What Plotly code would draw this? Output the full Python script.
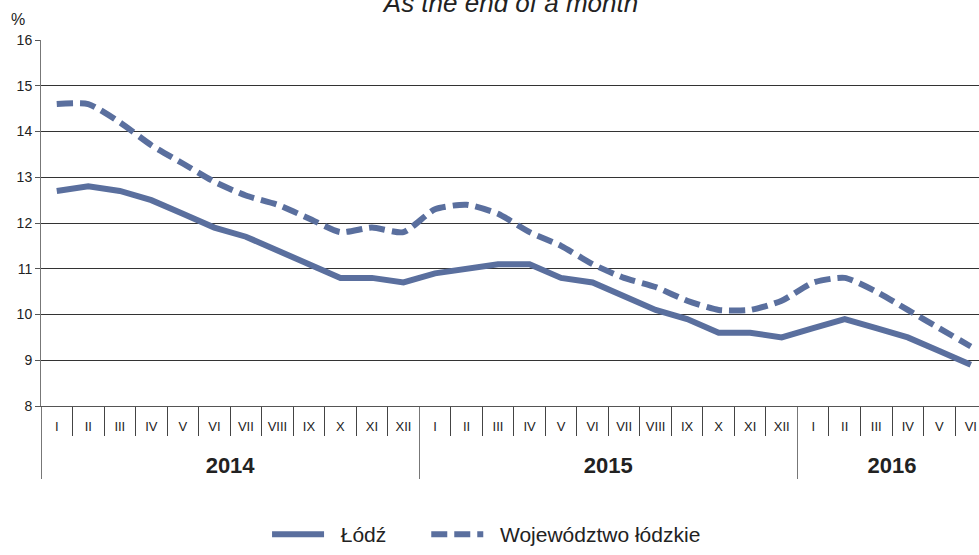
import plotly.graph_objects as go

years = ["2014"] * 12 + ["2015"] * 12 + ["2016"] * 6
months = ["I", "II", "III", "IV", "V", "VI", "VII", "VIII", "IX", "X", "XI", "XII",
          "I", "II", "III", "IV", "V", "VI", "VII", "VIII", "IX", "X", "XI", "XII",
          "I", "II", "III", "IV", "V", "VI"]
lodz = [12.7, 12.8, 12.7, 12.5, 12.2, 11.9, 11.7, 11.4, 11.1, 10.8, 10.8, 10.7,
        10.9, 11.0, 11.1, 11.1, 10.8, 10.7, 10.4, 10.1, 9.9, 9.6, 9.6, 9.5,
        9.7, 9.9, 9.7, 9.5, 9.2, 8.9]
wojewodztwo = [14.6, 14.6, 14.2, 13.7, 13.3, 12.9, 12.6, 12.4, 12.1, 11.8, 11.9, 11.8,
               12.3, 12.4, 12.2, 11.8, 11.5, 11.1, 10.8, 10.6, 10.3, 10.1, 10.1, 10.3,
               10.7, 10.8, 10.5, 10.1, 9.7, 9.3]
y_ticks = [8, 9, 10, 11, 12, 13, 14, 15, 16]

year_labels = ["<br><br><b><span style='font-size:22px'>%s</span></b>" % y for y in years]
x = [year_labels, months]

color = "#5a6f9e"
font_family = "Liberation Sans, Arial, sans-serif"
nb = "\u00a0\u00a0"

fig = go.Figure()
fig.add_trace(go.Scatter(x=x, y=lodz, name=nb + "Łódź" + "\u00a0" * 6, mode="lines",
                         line=dict(color=color, width=6)))
fig.add_trace(go.Scatter(x=x, y=wojewodztwo, name=nb + "Województwo łódzkie", mode="lines",
                         line=dict(color=color, width=6, dash="16px,7px",
                                   shape="spline", smoothing=0.6)))

fig.update_layout(
    width=979, height=555,
    margin=dict(l=41, r=0, t=40, b=144),
    paper_bgcolor="white", plot_bgcolor="white",
    font=dict(family=font_family, size=13, color="#222222"),
    title=dict(text="<i>As the end of a month</i>", x=511 / 979, xanchor="center",
               y=1 - 3 / 555, yanchor="middle", yref="container",
               font=dict(family=font_family, size=26, color="#222222")),
    showlegend=True,
    legend=dict(orientation="h", x=0.475, xanchor="center", y=-0.352, yanchor="middle",
                font=dict(family=font_family, size=21, color="#222222"),
                itemwidth=52, tracegroupgap=0),
)

fig.update_xaxes(
    type="multicategory",
    range=[-0.5, 29.26],
    automargin=False,
    showline=True, linecolor="#555555", linewidth=1,
    ticks="outside", tickson="boundaries", ticklen=29, tickcolor="#444444", tickwidth=1,
    ticklabelstandoff=8,
    showdividers=True, dividercolor="#777777", dividerwidth=1,
    tickfont=dict(family=font_family, size=13, color="#222222"),
    showgrid=False, zeroline=False, fixedrange=True,
)
fig.update_yaxes(
    range=[8, 16], tickvals=y_ticks,
    automargin=False,
    showgrid=True, gridcolor="#333333", gridwidth=1,
    showline=True, linecolor="#777777", linewidth=1,
    ticks="outside", ticklen=5, tickcolor="#555555",
    tickfont=dict(family=font_family, size=14, color="#222222"),
    zeroline=False, fixedrange=True,
)

fig.add_annotation(text="%", xref="paper", yref="paper", x=(18 - 41) / 938, y=1 + 21 / 371,
                   xanchor="center", yanchor="middle", showarrow=False,
                   font=dict(family=font_family, size=16, color="#222222"))

fig.write_html("out.html", config={"displayModeBar": False},
               post_script="document.body.style.margin='0';document.body.style.overflow='hidden';")
